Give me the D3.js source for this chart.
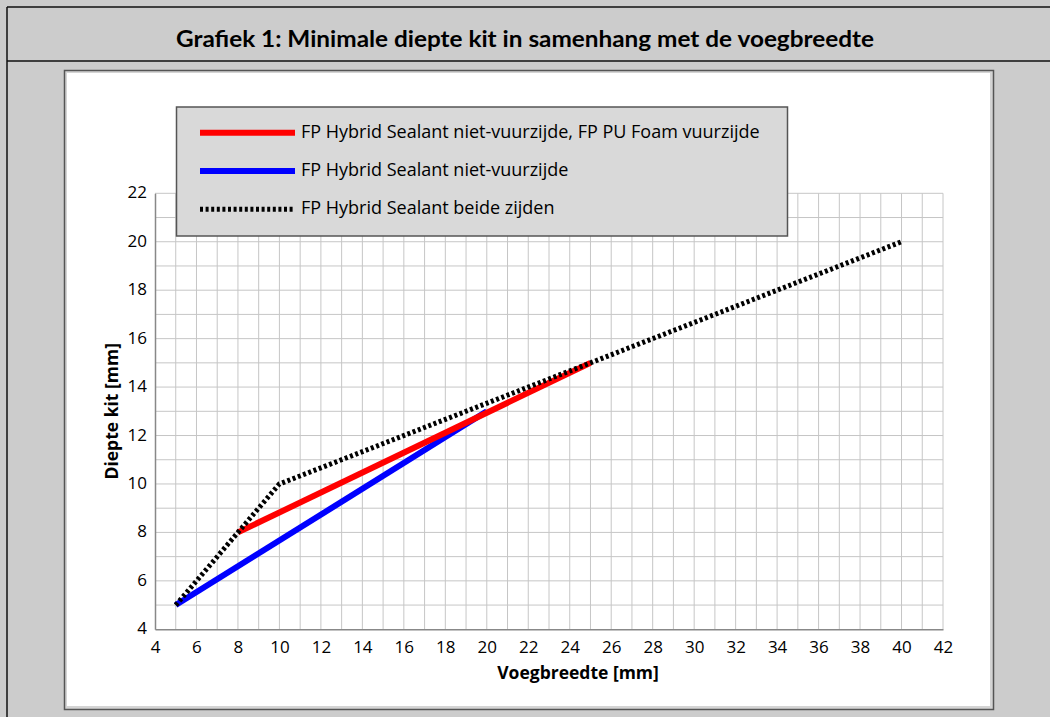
<!DOCTYPE html>
<html>
<head>
<meta charset="utf-8">
<script src="https://cdn.jsdelivr.net/npm/d3@7"></script>
<style>
  body { margin: 0; background: #cccccc; }
  svg { display: block; font-family: "Open Sans", "Noto Sans", sans-serif; }
</style>
</head>
<body>
<svg id="chart"></svg>
<script>
// data: [voegbreedte, diepte]
const redLine = [[8, 8], [25, 15]];
const blueLine = [[5, 5], [20, 13]];
const blackLine = [[5, 5], [8, 8], [10, 10], [40, 20]];
const seriesNames = [
  "FP Hybrid Sealant niet-vuurzijde, FP PU Foam vuurzijde",
  "FP Hybrid Sealant niet-vuurzijde",
  "FP Hybrid Sealant beide zijden"
];
const xTicks = d3.range(4, 43, 2);
const yTicks = d3.range(4, 23, 2);

const W = 1050, H = 717;
const svg = d3.select("#chart").attr("width", W).attr("height", H);

// outer frame + title bar
svg.append("rect").attr("width", W).attr("height", H).attr("fill", "#cccccc");
svg.append("line").attr("x1", 7).attr("x2", W).attr("y1", 7).attr("y2", 7)
  .attr("stroke", "#111").attr("stroke-width", 1.5);
svg.append("line").attr("x1", 7).attr("x2", W).attr("y1", 61).attr("y2", 61)
  .attr("stroke", "#111").attr("stroke-width", 1.5);
svg.append("line").attr("x1", 7).attr("x2", 7).attr("y1", 7).attr("y2", H)
  .attr("stroke", "#111").attr("stroke-width", 1.5);
svg.append("text")
  .attr("x", 525).attr("y", 41)
  .attr("text-anchor", "middle").attr("dominant-baseline", "middle")
  .attr("textLength", 698).attr("lengthAdjust", "spacingAndGlyphs")
  .style("font-family", "Lato, sans-serif")
  .style("font-size", "22px").style("font-weight", "bold")
  .text("Grafiek 1: Minimale diepte kit in samenhang met de voegbreedte");

// inner panel
svg.append("rect").attr("x", 64.5).attr("y", 70.5).attr("width", 929).attr("height", 639)
  .attr("fill", "#d4d4d4").attr("stroke", "#555").attr("stroke-width", 1.5);
svg.append("rect").attr("x", 67).attr("y", 73).attr("width", 923).attr("height", 633)
  .attr("fill", "#ffffff");

const x = d3.scaleLinear().domain([4, 42]).range([155, 943]);
const y = d3.scaleLinear().domain([4, 22]).range([629.3, 193.3]);

// grid every 1 mm
const g = svg.append("g");
g.selectAll(".gx").data(d3.range(5, 43)).join("line")
  .attr("x1", d => x(d)).attr("x2", d => x(d))
  .attr("y1", y(4)).attr("y2", y(22))
  .attr("stroke", "#c6c6c6").attr("stroke-width", 1);
g.selectAll(".gy").data(d3.range(5, 23)).join("line")
  .attr("x1", x(4)).attr("x2", x(42))
  .attr("y1", d => y(d)).attr("y2", d => y(d))
  .attr("stroke", "#c6c6c6").attr("stroke-width", 1);

// axes
const xAxis = d3.axisBottom(x).tickValues(xTicks).tickSize(0).tickPadding(10);
const yAxis = d3.axisLeft(y).tickValues(yTicks).tickSize(0).tickPadding(8);
const gx = svg.append("g").attr("transform", "translate(0," + y(4) + ")").call(xAxis);
const gy = svg.append("g").attr("transform", "translate(" + x(4) + ",0)").call(yAxis);
[gx, gy].forEach(a => {
  a.select(".domain").attr("stroke", "#888").attr("stroke-width", 1.5);
  a.selectAll("text").style("font-size", "17px")
    .style("font-family", "'Open Sans', sans-serif").attr("fill", "#000");
});
gx.selectAll("text").attr("dy", null).attr("y", 19).attr("dominant-baseline", "middle");
gy.selectAll("text").attr("dy", null).attr("dominant-baseline", "middle");

svg.append("text")
  .attr("x", x(24.4)).attr("y", 674)
  .attr("text-anchor", "middle").attr("dominant-baseline", "middle")
  .style("font-size", "17.5px").style("font-weight", "bold")
  .text("Voegbreedte [mm]");
svg.append("text")
  .attr("transform", "translate(113," + y(13) + ") rotate(-90)")
  .attr("text-anchor", "middle").attr("dominant-baseline", "middle")
  .style("font-size", "17.5px").style("font-weight", "bold")
  .text("Diepte kit [mm]");

// lines
const line = d3.line().x(d => x(d[0])).y(d => y(d[1]));
const styles = [
  {data: redLine, color: "#ff0000", width: 6, dash: null},
  {data: blueLine, color: "#0000ff", width: 6, dash: null},
  {data: blackLine, color: "#000000", width: 5, dash: "3,2.6"}
];
[styles[1], styles[0], styles[2]].forEach(s => {
  svg.append("path").attr("d", line(s.data))
    .attr("fill", "none").attr("stroke", s.color).attr("stroke-width", s.width)
    .attr("stroke-dasharray", s.dash);
});

// legend
const lg = svg.append("g");
lg.append("rect").attr("x", 176.5).attr("y", 107).attr("width", 611).attr("height", 129)
  .attr("fill", "#d9d9d9").attr("stroke", "#555").attr("stroke-width", 1.5);
const items = lg.selectAll(".item").data(styles).join("g")
  .attr("transform", (d, i) => "translate(0," + (132.7 + i * 38.3) + ")");
items.append("line").attr("x1", 200).attr("x2", 295)
  .attr("stroke", d => d.color).attr("stroke-width", d => d.dash ? 5 : 6)
  .attr("stroke-dasharray", d => d.dash);
items.append("text").attr("x", 301).attr("dominant-baseline", "middle")
  .style("font-size", "18px")
  .text((d, i) => seriesNames[i]);
</script>
</body>
</html>
